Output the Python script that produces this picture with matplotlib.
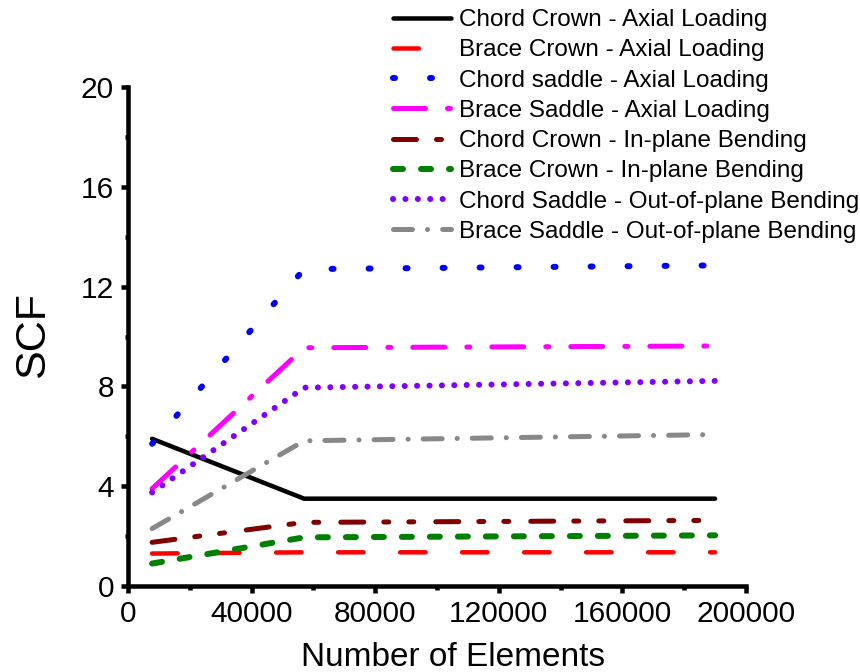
import numpy as np
import matplotlib
matplotlib.use("Agg")
import matplotlib.pyplot as plt
from matplotlib.ticker import MultipleLocator

plt.rcParams['font.family'] = ['Liberation Sans', 'DejaVu Sans']
plt.rcParams['lines.scale_dashes'] = False

# number of elements in the meshes
elements = [7800, 57000, 190000]

chord_crown_ax = [5.9, 3.5, 3.5]
brace_crown_ax = [1.3, 1.35, 1.35]
chord_saddle_ax = [5.7, 12.7, 12.85]
brace_saddle_ax = [3.9, 9.55, 9.62]
chord_crown_ipb = [1.75, 2.55, 2.63]
brace_crown_ipb = [0.9, 1.95, 2.03]
chord_saddle_opb = [3.75, 7.95, 8.22]
brace_saddle_opb = [2.3, 5.82, 6.07]

labels = ["Chord Crown - Axial Loading", "Brace Crown - Axial Loading",
          "Chord saddle - Axial Loading", "Brace Saddle - Axial Loading",
          "Chord Crown - In-plane Bending", "Brace Crown - In-plane Bending",
          "Chord Saddle - Out-of-plane Bending", "Brace Saddle - Out-of-plane Bending"]

def px(v):
    return v * 72 / 100.0

def dsh(*vals):
    return (0, tuple(px(v) for v in vals))

series = [chord_crown_ax, brace_crown_ax, chord_saddle_ax, brace_saddle_ax,
          chord_crown_ipb, brace_crown_ipb, chord_saddle_opb, brace_saddle_opb]
colors = ["black", "#ff0000", "#0000ff", "#ff00ff", "#800000", "#008000", "#8000ff", "#888888"]
widths = [4.5, 4.5, 6, 5, 5, 6, 6, 5]
styles = ["-", dsh(25.5, 36.5), dsh(2, 35), dsh(32, 22, 3, 22),
          dsh(23, 20, 5, 20, 5, 22), dsh(10, 18), dsh(0.1, 12.3), dsh(19, 15, 0.1, 15)]

fig = plt.figure(figsize=(8.6, 6.72), dpi=100)
ax = fig.add_axes([128/860, 1-586/672, (746-128)/860, (586-87)/672])

for ys, c, w, s, lab in zip(series, colors, widths, styles, labels):
    ax.plot(elements, ys, color=c, lw=px(w), linestyle=s, label=lab,
            dash_capstyle='round', solid_capstyle='round')

ax.set_xlim(0, 200000)
ax.set_ylim(0, 20)
ax.xaxis.set_major_locator(MultipleLocator(40000))
ax.xaxis.set_minor_locator(MultipleLocator(20000))
ax.yaxis.set_major_locator(MultipleLocator(4))
ax.yaxis.set_minor_locator(MultipleLocator(2))
for sp in ['top', 'right']:
    ax.spines[sp].set_visible(False)
for sp in ['left', 'bottom']:
    ax.spines[sp].set_linewidth(px(4.5))
ax.tick_params(which='major', direction='out', length=px(7), width=px(4.5), labelsize=21.5, pad=px(7))
ax.tick_params(which='minor', direction='out', length=px(3.5), width=px(4.5))

ax.set_xlabel("Number of Elements", fontsize=24)
ax.xaxis.set_label_coords((453-128)/618, -(657-586)/499, transform=ax.transAxes)
ax.xaxis.label.set_va('center')
ax.set_ylabel("SCF", fontsize=31)
ax.yaxis.set_label_coords(-(128-33)/618, (586-335)/499, transform=ax.transAxes)
ax.yaxis.label.set_va('center')

fig.legend(loc='upper left', bbox_to_anchor=(393/860, 1-9/672), frameon=False,
           fontsize=17.5, handlelength=2.4, handletextpad=0.3, labelspacing=0.34,
           borderpad=0, borderaxespad=0)

fig.savefig("out.png", dpi=100)
